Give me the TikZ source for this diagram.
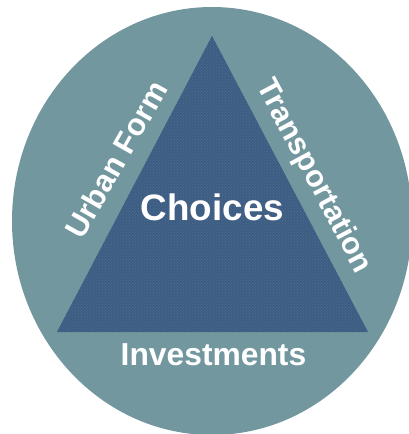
\documentclass[tikz,border=0pt]{standalone}
\usepackage{fontspec}
\usetikzlibrary{patterns}
\setmainfont{Liberation Sans}
\definecolor{discteal}{HTML}{72979F}
\definecolor{trifill}{HTML}{3D5C82}
\definecolor{tridot}{HTML}{4A6B90}
\pgfdeclarepatternformonly{tridots}{\pgfqpoint{-0.5pt}{-0.5pt}}{\pgfqpoint{3.5pt}{3.5pt}}{\pgfqpoint{3pt}{3pt}}{%
  \pgfpathrectangle{\pgfqpoint{0pt}{0pt}}{\pgfqpoint{1pt}{1pt}}%
  \pgfpathrectangle{\pgfqpoint{1.5pt}{1.5pt}}{\pgfqpoint{1pt}{1pt}}%
  \pgfusepath{fill}}
\tikzset{
  label text/.style={text=white,font=\bfseries\fontsize{#1}{#1}\selectfont,inner sep=0pt,anchor=center}
}
\begin{document}
\begin{tikzpicture}[x=1pt,y=-1pt]
\useasboundingbox (0,0) rectangle (409,434);
\clip (0,0) rectangle (409,434);
\fill[discteal] (212,221) ellipse [x radius=200,y radius=214];
\fill[trifill] (212,36) -- (368,332) -- (57,332) -- cycle;
\fill[pattern=tridots,pattern color=tridot] (212,36) -- (368,332) -- (57,332) -- cycle;
\node[label text=36.8] (choices) at (212.5,207) {Choices};
\node[label text=31.8] (invest) at (213.5,355) {Investments};
\node[label text=30.8,rotate=60.5] (urban) at (116,159.5) {Urban Form};
\node[label text=30.5,rotate=-62] (trans) at (313.5,176.5) {Transportation};
\end{tikzpicture}
\end{document}
